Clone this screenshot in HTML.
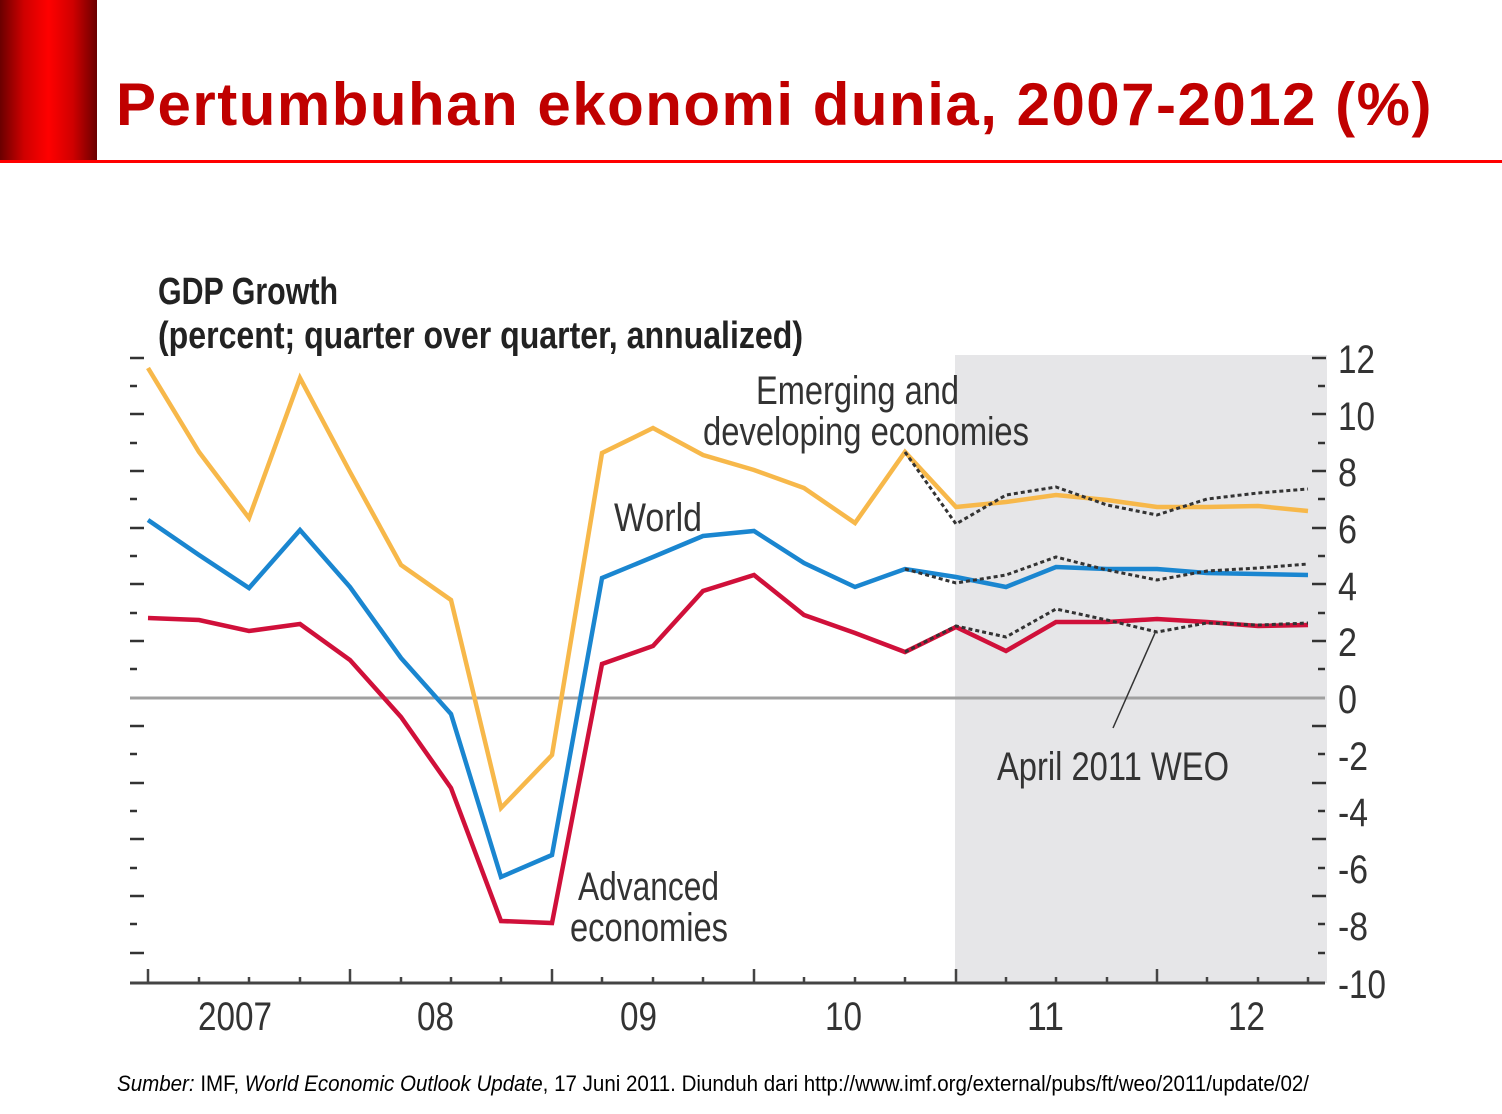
<!DOCTYPE html>
<html><head><meta charset="utf-8"><style>
html,body{margin:0;padding:0;background:#fff;}
body{width:1502px;height:1114px;position:relative;overflow:hidden;font-family:"Liberation Sans",sans-serif;}
.blk{position:absolute;left:0;top:0;width:97px;height:162px;background:linear-gradient(90deg,#6a0000 0%,#d00000 25%,#ff0000 50%,#d00000 75%,#6a0000 100%);}
.rl{position:absolute;left:0;top:160px;width:1502px;height:3px;background:#ff0000;}
.title{position:absolute;left:116px;top:70px;font-size:60px;font-weight:bold;color:#c00000;white-space:nowrap;letter-spacing:1.5px;}
svg{position:absolute;left:0;top:0;}
</style></head><body>
<div class="blk"></div><div class="rl"></div>
<div class="title">Pertumbuhan ekonomi dunia, 2007-2012 (%)</div>
<svg width="1502" height="1114" viewBox="0 0 1502 1114">
<rect x="955" y="355" width="372" height="628" fill="#e6e6e8"/>
<line x1="130" y1="698" x2="1325" y2="698" stroke="#a0a0a0" stroke-width="3"/>
<g stroke="#333" stroke-width="2.5">
<path d="M130 358h14M130 386h7M130 414h14M130 443h7M130 471h14M130 499h7M130 528h14M130 556h7M130 584h14M130 613h7M130 641h14M130 669h7M130 726h14M130 754h7M130 783h14M130 811h7M130 839h14M130 868h7M130 896h14M130 924h7M130 953h14"/>
<path d="M1312 358h14M1318 386h7M1312 414h14M1318 443h7M1312 471h14M1318 499h7M1312 528h14M1318 556h7M1312 584h14M1318 613h7M1312 641h14M1318 669h7M1312 726h14M1318 754h7M1312 783h14M1318 811h7M1312 839h14M1318 868h7M1312 896h14M1318 924h7M1318 953h7"/>
</g>
<line x1="130" y1="983" x2="1325" y2="983" stroke="#444" stroke-width="3"/>
<g stroke="#444" stroke-width="2.5">
<path d="M148 983v-14M350 983v-14M552 983v-14M754 983v-14M956 983v-14M1157 983v-14"/>
<path d="M199 983v-6M249 983v-6M300 983v-6M401 983v-6M451 983v-6M501 983v-6M602 983v-6M653 983v-6M703 983v-6M804 983v-6M855 983v-6M905 983v-6M1006 983v-6M1056 983v-6M1107 983v-6M1207 983v-6M1258 983v-6M1308 983v-6"/>
</g>
<g fill="none" stroke-width="4.5" stroke-linejoin="miter">
<polyline stroke="#f7b84a" points="148,368 199,452 249,518 300,378 350,472 401,565 451,600 501,808 552,755 602,453 653,428 703,455 754,470 804,488 855,523 905,452 956,507 1006,502 1056,495 1107,500 1157,507 1207,507 1258,506 1308,511"/>
<polyline stroke="#1a86d0" points="148,520 199,555 249,588 300,530 350,587 401,658 451,714 501,877 552,855 602,578 653,557 703,536 754,531 804,563 855,587 905,569 956,577 1006,587 1056,567 1107,569 1157,569 1207,573 1258,574 1308,575"/>
<polyline stroke="#d0103a" points="148,618 199,620 249,631 300,624 350,660 401,717 451,788 501,921 552,923 602,664 653,646 703,591 754,575 804,615 855,633 905,652 956,627 1006,651 1056,622 1107,622 1157,619 1207,622 1258,626 1308,625"/>
</g>
<g fill="none" stroke="#333" stroke-width="3" stroke-dasharray="4,3">
<polyline points="905,452 956,524 1006,495 1056,487 1107,505 1157,515 1207,499 1258,493 1308,489"/>
<polyline points="905,569 956,583 1006,575 1056,557 1107,570 1157,580 1207,571 1258,568 1308,564"/>
<polyline points="905,652 956,626 1006,637 1056,609 1107,620 1157,632 1207,623 1258,625 1308,623"/>
</g>
<line x1="1155" y1="633" x2="1113" y2="728" stroke="#333" stroke-width="1.5"/>
<g font-family="Liberation Sans, sans-serif" fill="#222">
<text x="158" y="304" font-size="38" font-weight="bold" textLength="180" lengthAdjust="spacingAndGlyphs">GDP Growth</text>
<text x="158" y="348" font-size="38" font-weight="bold" textLength="645" lengthAdjust="spacingAndGlyphs">(percent; quarter over quarter, annualized)</text>
<g fill="#333" font-size="40">
<text x="756" y="404" textLength="203" lengthAdjust="spacingAndGlyphs">Emerging and</text>
<text x="703" y="445" textLength="326" lengthAdjust="spacingAndGlyphs">developing economies</text>
<text x="614" y="531" textLength="88" lengthAdjust="spacingAndGlyphs">World</text>
<text x="578" y="900" textLength="141" lengthAdjust="spacingAndGlyphs">Advanced</text>
<text x="570" y="941" textLength="158" lengthAdjust="spacingAndGlyphs">economies</text>
<text x="997" y="780" textLength="232" lengthAdjust="spacingAndGlyphs">April 2011 WEO</text>
</g>
<g fill="#333" font-size="40">
<text x="198" y="1030" textLength="74" lengthAdjust="spacingAndGlyphs">2007</text>
<text x="417" y="1030" textLength="37" lengthAdjust="spacingAndGlyphs">08</text>
<text x="620" y="1030" textLength="37" lengthAdjust="spacingAndGlyphs">09</text>
<text x="825" y="1030" textLength="37" lengthAdjust="spacingAndGlyphs">10</text>
<text x="1027" y="1030" textLength="37" lengthAdjust="spacingAndGlyphs">11</text>
<text x="1228" y="1030" textLength="37" lengthAdjust="spacingAndGlyphs">12</text>
</g>
<g fill="#333" font-size="40">
<text x="1338" y="373" textLength="37" lengthAdjust="spacingAndGlyphs">12</text>
<text x="1338" y="430" textLength="37" lengthAdjust="spacingAndGlyphs">10</text>
<text x="1338" y="486" textLength="19" lengthAdjust="spacingAndGlyphs">8</text>
<text x="1338" y="543" textLength="19" lengthAdjust="spacingAndGlyphs">6</text>
<text x="1338" y="600" textLength="19" lengthAdjust="spacingAndGlyphs">4</text>
<text x="1338" y="656" textLength="19" lengthAdjust="spacingAndGlyphs">2</text>
<text x="1338" y="713" textLength="19" lengthAdjust="spacingAndGlyphs">0</text>
<text x="1338" y="770" textLength="30" lengthAdjust="spacingAndGlyphs">-2</text>
<text x="1338" y="826" textLength="30" lengthAdjust="spacingAndGlyphs">-4</text>
<text x="1338" y="883" textLength="30" lengthAdjust="spacingAndGlyphs">-6</text>
<text x="1338" y="940" textLength="30" lengthAdjust="spacingAndGlyphs">-8</text>
<text x="1338" y="998" textLength="48" lengthAdjust="spacingAndGlyphs">-10</text>
</g>
<text x="117" y="1091" font-size="22" fill="#000" textLength="1192" lengthAdjust="spacingAndGlyphs"><tspan font-style="italic">Sumber:</tspan> IMF, <tspan font-style="italic">World Economic Outlook Update</tspan>, 17 Juni 2011. Diunduh dari http://www.imf.org/external/pubs/ft/weo/2011/update/02/</text>
</g>
</svg>
</body></html>
